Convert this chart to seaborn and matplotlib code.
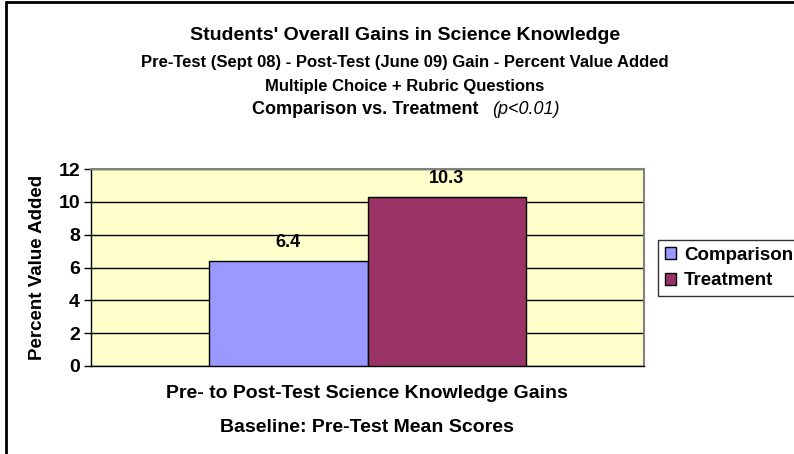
import matplotlib
matplotlib.use("Agg")
import matplotlib.pyplot as plt
import seaborn as sns
import pandas as pd
from matplotlib.lines import Line2D

# values
groups = ["Comparison", "Treatment"]
gains = [6.4, 10.3]
category = "Pre- to Post-Test Science Knowledge Gains"
colors = ["#9999FF", "#993366"]
yticks = [0, 2, 4, 6, 8, 10, 12]

df = pd.DataFrame({"cat": [category] * len(groups), "group": groups, "gain": gains})

sns.set_style("white")
plt.rcParams["font.family"] = ["Liberation Sans", "DejaVu Sans"]
plt.rcParams["text.color"] = "black"
plt.rcParams["axes.labelcolor"] = "black"
plt.rcParams["ytick.color"] = "black"
plt.rcParams["xtick.color"] = "black"

fig = plt.figure(figsize=(7.94, 4.54), dpi=100)
ax = fig.add_axes([91 / 794, 1 - 366 / 454, 553 / 794, 197 / 454])
ax.set_facecolor("#FFFFCC")

sns.barplot(data=df, x="cat", y="gain", hue="group", palette=colors, saturation=1,
            width=0.575, edgecolor="black", linewidth=1, ax=ax, legend=True,
            zorder=3)

for cont in ax.containers:
    ax.bar_label(cont, fmt="%.1f", padding=7, fontsize=13, fontweight="bold")

ax.set_ylim(0, 12)
ax.set_yticks(yticks)
ax.set_yticklabels([str(t) for t in yticks], fontsize=14, fontweight="bold")
ax.yaxis.grid(True, color="black", linewidth=1, zorder=0)
ax.set_axisbelow(True)
ax.tick_params(axis="y", length=5, width=1, color="black", left=True, pad=3)
ax.tick_params(axis="x", length=0, labelbottom=False)
ax.set_xlabel("")
ax.set_ylabel("Percent Value Added", fontsize=13.5, fontweight="bold")
ax.yaxis.set_label_coords((46 - 91) / 553, 0.5)

for side in ["top", "right"]:
    ax.spines[side].set_color("#808080")
    ax.spines[side].set_linewidth(1.5)
for side in ["left", "bottom"]:
    ax.spines[side].set_color("black")
    ax.spines[side].set_linewidth(1)

# category label and baseline note under the axis
fig.text(367 / 794, 1 - 393 / 454, category, ha="center", va="center",
         fontsize=14, fontweight="bold")
fig.text(367 / 794, 1 - 427 / 454, "Baseline: Pre-Test Mean Scores", ha="center",
         va="center", fontsize=14, fontweight="bold")

# titles
cx = 405 / 794
fig.text(cx, 1 - 36 / 454, "Students' Overall Gains in Science Knowledge",
         ha="center", va="center", fontsize=14, fontweight="bold")
fig.text(cx, 1 - 63 / 454,
         "Pre-Test (Sept 08) - Post-Test (June 09) Gain - Percent Value Added",
         ha="center", va="center", fontsize=12, fontweight="bold")
fig.text(cx, 1 - 87 / 454, "Multiple Choice + Rubric Questions",
         ha="center", va="center", fontsize=12, fontweight="bold")
fig.text(478 / 794, 1 - 110 / 454, "Comparison vs. Treatment", ha="right",
         va="center", fontsize=13, fontweight="bold")
fig.text(492 / 794, 1 - 110 / 454, "(p<0.01)", ha="left", va="center",
         fontsize=13, fontstyle="italic")

# legend box on the right, running off the right edge like the original
handles, labels = ax.get_legend_handles_labels()
ax.legend_.remove()
leg = fig.legend(handles, labels, loc="lower left", mode="expand",
                 bbox_to_anchor=(658 / 794, 1 - 296 / 454, 170 / 794, 0.01),
                 frameon=True, fancybox=False, shadow=False,
                 handlelength=0.6, handleheight=0.6, handletextpad=0.45,
                 borderpad=0.35, borderaxespad=0, labelspacing=0.45,
                 prop={"weight": "bold", "size": 13.5})
leg.get_frame().set_edgecolor("black")
leg.get_frame().set_linewidth(1)

# outer chart border (only left and top edges visible)
fig.add_artist(Line2D([6 / 794, 6 / 794], [0, 1 - 2 / 454], color="black", linewidth=2))
fig.add_artist(Line2D([6 / 794, 1], [1 - 2 / 454, 1 - 2 / 454], color="black", linewidth=2))

fig.savefig("out.png", dpi=100)
